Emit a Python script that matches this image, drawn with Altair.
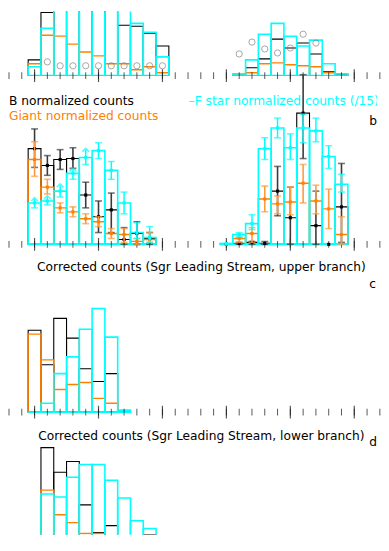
import altair as alt
import pandas as pd

# ---------------- data ----------------
minor_ticks = list(range(80, 380, 10))
major_ticks = [100, 150, 200, 250, 300, 350]

# panel a (top, cropped)
a_bins   = [100, 110, 120, 130, 140, 150, 160, 170, 180, 190, 200,
            260, 270, 280, 290, 300, 310, 320, 330, 340]
a_black  = [0.16, 0.64, 0.80, 0.78, 0.76, 0.66, 0.67, 0.51, 0.50, 0.43, 0.30,
            0.01, 0.08, 0.17, 0.37, 0.28, 0.33, 0.22, 0.04, 0.01]
a_orange = [0.12, 0.41, 0.40, 0.32, 0.24, 0.20, 0.12, 0.12, 0.06, 0.09, 0.03,
            0.01, 0.03, 0.12, 0.13, 0.11, 0.10, 0.09, 0.03, 0.005]
a_cyan   = [0.09, 0.48, 0.95, 0.92, 0.90, 0.95, 0.80, 0.71, 0.53, 0.44, 0.19,
            0.02, 0.16, 0.42, 0.53, 0.40, 0.30, 0.36, 0.12, 0.02]
a_circ_bins = [100, 110, 120, 130, 140, 150, 160, 170, 180, 190, 200,
               260, 270, 280, 290, 300, 310, 320, 330]
a_circ      = [0.68, 0.14, 0.10, 0.10, 0.10, 0.10, 0.10, 0.10, 0.10, 0.10, 0.10,
               0.22, 0.34, 0.27, 0.23, 0.28, 0.42, 0.33, 0.70]

# panel b (normalized counts with errors)
b_bins      = [100, 110, 120, 130, 140, 150, 160, 170, 180, 190,
               250, 260, 270, 280, 290, 300, 310, 320, 330, 340]
b_black     = [0.97, 0.80, 0.86, 0.87, 0.50, 0.28, 0.35, 0.05, 0.11, 0.06,
               0.00, 0.01, 0.02, 0.01, 0.54, 0.27, 1.33, 0.19, 0.00, 0.38]
b_black_lo  = [0.78, 0.70, 0.76, 0.77, 0.37, 0.12, 0.12, 0.00, 0.00, 0.00,
               None, 0.00, 0.00, 0.00, 0.29, 0.00, 0.87, 0.00, None, 0.02]
b_black_hi  = [1.17, 0.90, 0.96, 0.98, 0.63, 0.44, 0.52, 0.17, 0.23, 0.12,
               None, 0.02, 0.03, 0.03, 0.79, 0.58, 1.72, 0.54, None, 0.82]
b_orange    = [0.86, 0.58, 0.37, 0.33, 0.26, 0.23, 0.11, 0.10, 0.03, 0.05,
               0.00, 0.06, 0.11, 0.46, 0.41, 0.43, 0.62, 0.44, 0.36, 0.10]
b_orange_lo = [0.69, 0.51, 0.32, 0.28, 0.21, 0.18, 0.06, 0.02, 0.00, 0.02,
               None, 0.02, 0.02, 0.33, 0.31, 0.30, 0.42, 0.31, 0.16, 0.00]
b_orange_hi = [1.04, 0.66, 0.42, 0.38, 0.31, 0.28, 0.16, 0.16, 0.06, 0.12,
               None, 0.07, 0.17, 0.59, 0.49, 0.58, 0.81, 0.60, 0.56, 0.28]
b_cyan      = [0.42, 0.44, 0.54, 0.72, 0.88, 0.95, 0.75, 0.42, 0.12, 0.07,
               0.01, 0.10, 0.21, 0.97, 1.18, 0.98, 1.18, 1.15, 0.89, 0.61]
b_cyan_lo   = [0.37, 0.40, 0.48, 0.66, 0.81, 0.87, 0.66, 0.31, 0.06, 0.02,
               None, 0.08, 0.15, 0.86, 1.08, 0.86, 1.03, 1.04, 0.77, 0.53]
b_cyan_hi   = [0.46, 0.48, 0.60, 0.76, 0.96, 1.03, 0.84, 0.53, 0.22, 0.18,
               None, 0.12, 0.30, 1.08, 1.28, 1.12, 1.32, 1.28, 1.00, 0.71]
b_cyan_arrow = [True, True, True, True, True, False, False, False, False, False,
                False, False, False, False, False, False, False, False, False, False]

# panel c (corrected counts, upper branch)
c_bins   = [100, 110, 120, 130, 140, 150, 160, 170]
c_black  = [0.83, 0.48, 0.95, 0.75, 0.44, 0.31, 0.39, 0.00]
c_orange = [0.79, 0.53, 0.23, 0.28, 0.30, 0.14, 0.09, 0.00]
c_cyan   = [0.00, 0.09, 0.39, 0.56, 0.84, 1.05, 0.76, 0.02]

# panel d (corrected counts, lower branch)
d_bins   = [110, 120, 130, 140, 150, 160, 170, 180, 190]
d_black  = [1.34, 1.09, 1.20, 0.76, 0.48, 0.55, 0.34, 0.25, 0.46]
d_orange = [0.91, 0.66, 0.58, 0.47, 0.47, 0.30, 0.37, 0.20, 0.20]
d_cyan   = [0.87, 0.84, 1.04, 1.17, 1.17, 1.01, 0.83, 0.60, 0.52]

# ---------------- styling ----------------
W = 373
PX_PER_UNIT = 1.296
X_DOMAIN = [80, 80 + W / PX_PER_UNIT]
BLACK, ORANGE, CYAN, GREY = "#000000", "#FF8000", "#00FFFF", "#808080"
FONT = "DejaVu Sans"
FS = 12.4


def xsc():
    return alt.Scale(domain=X_DOMAIN, nice=False, zero=False)


def ysc(h, lo=0.0):
    return alt.Scale(domain=[lo, lo + h / 100.0], nice=False, zero=False)


def hist_df(bins, black, orange, cyan):
    return pd.DataFrame({
        "bin": bins,
        "x0": [b - 5 for b in bins],
        "x1": [b + 5 for b in bins],
        "black": black, "orange": orange, "cyan": cyan,
    })


def hist_layers(df, ys, clip=False):
    out = []
    for col, color, sw in [("black", BLACK, 1.1), ("orange", ORANGE, 1.4), ("cyan", CYAN, 1.6)]:
        out.append(
            alt.Chart(df).mark_rect(filled=False, stroke=color, strokeWidth=sw, clip=clip).encode(
                x=alt.X("x0:Q", scale=xsc(), axis=None),
                x2="x1:Q",
                y=alt.Y(f"{col}:Q", scale=ys, axis=None),
                y2=alt.datum(0),
            )
        )
    return out


def tick_layers(h):
    mdf = pd.DataFrame({"t": minor_ticks})
    Mdf = pd.DataFrame({"t": major_ticks})
    axis = alt.Axis(domain=True, domainColor="#222222", domainWidth=1.2, ticks=False,
                    labels=False, title=None, grid=False)
    minor = alt.Chart(mdf).mark_tick(orient="vertical", size=7, thickness=1, color="#111111").encode(
        x=alt.X("t:Q", scale=xsc(), axis=axis), y=alt.value(h))
    major = alt.Chart(Mdf).mark_tick(orient="vertical", size=13, thickness=1.2, color="#111111").encode(
        x=alt.X("t:Q", scale=xsc(), axis=None), y=alt.value(h))
    return [minor, major]


def text_layer(txt, x, y, color=BLACK, align="left", clip=False):
    return alt.Chart(pd.DataFrame({"txt": [txt]})).mark_text(
        font=FONT, fontSize=FS, color=color, align=align, baseline="alphabetic", clip=clip
    ).encode(text="txt:N", x=alt.value(x), y=alt.value(y))


# ---------------- panel a ----------------
HA = 65
YA = ysc(HA)
a_df = hist_df(a_bins, a_black, a_orange, a_cyan)
circ_df = pd.DataFrame({"bin": a_circ_bins, "v": a_circ})
circles = alt.Chart(circ_df).transform_filter(f"datum.v <= {HA / 100.0}").mark_point(
    shape="circle", size=40, filled=False, color=GREY, strokeWidth=1, clip=True).encode(
    x=alt.X("bin:Q", scale=xsc(), axis=None),
    y=alt.Y("v:Q", scale=YA, axis=None))
panel_a = alt.layer(*hist_layers(a_df, YA, clip=True), circles, *tick_layers(HA)).properties(width=W, height=HA)

# ---------------- panel b ----------------
HB = 171
YB = ysc(HB)
b_df = hist_df(b_bins, b_black, b_orange, b_cyan)


def err_layers(bins, val, lo, hi, color, ecolor, ew, arrows=None):
    df = pd.DataFrame({"bin": bins, "v": val, "lo": lo, "hi": hi,
                       "arrow": arrows if arrows else [False] * len(bins)})
    base = alt.Chart(df)
    xe = alt.X("bin:Q", scale=xsc(), axis=None)
    rule = base.mark_rule(color=ecolor, strokeWidth=ew).encode(
        x=xe, y=alt.Y("lo:Q", scale=YB, axis=None), y2="hi:Q")
    cap_lo = base.mark_tick(orient="horizontal", size=7, thickness=ew, color=ecolor).encode(
        x=xe, y=alt.Y("lo:Q", scale=YB, axis=None))
    cap_hi = base.transform_filter("!datum.arrow").mark_tick(
        orient="horizontal", size=7, thickness=ew, color=ecolor).encode(
        x=xe, y=alt.Y("hi:Q", scale=YB, axis=None))
    pts = base.mark_square(size=10, color=color, opacity=1).encode(
        x=xe, y=alt.Y("v:Q", scale=YB, axis=None))
    layers = [rule, cap_lo, cap_hi, pts]
    if arrows:
        arr = base.transform_filter("datum.arrow").mark_point(
            shape="M-1,0.6L0,-0.4L1,0.6", size=45, filled=False, color=ecolor, strokeWidth=1.6).encode(
            x=xe, y=alt.Y("hi:Q", scale=YB, axis=None))
        layers.append(arr)
    return layers


panel_b = alt.layer(
    *hist_layers(b_df, YB),
    *tick_layers(HB),
    *err_layers(b_bins, b_black, b_black_lo, b_black_hi, BLACK, "#3a3a3a", 1.6),
    *err_layers(b_bins, b_orange, b_orange_lo, b_orange_hi, ORANGE, "#FF9A3C", 1.6),
    *err_layers(b_bins, b_cyan, b_cyan_lo, b_cyan_hi, CYAN, CYAN, 1.5, arrows=b_cyan_arrow),
    text_layer("B normalized counts", 0, 30, BLACK),
    text_layer("Giant normalized counts", 0, 45, ORANGE),
    text_layer("\u2013F star normalized counts (/15)", 182, 30, CYAN, clip=True),
    text_layer("b", 365, 50, BLACK),
).properties(width=W, height=HB)

# ---------------- panel c ----------------
HC = 170
YC = ysc(HC)
c_df = hist_df(c_bins, c_black, c_orange, c_cyan)
panel_c = alt.layer(
    *hist_layers(c_df, YC),
    *tick_layers(HC),
    text_layer("Corrected counts (Sgr Leading Stream, upper branch)", 195, 27, BLACK, align="center"),
    text_layer("c", 365, 44, BLACK),
).properties(width=W, height=HC)

# ---------------- panel d (its axis lies below the visible window) ----------------
HD = 124
YD = ysc(HD, lo=0.46)
d_df = hist_df(d_bins, d_black, d_orange, d_cyan)
panel_d = alt.layer(
    *hist_layers(d_df, YD, clip=True),
    text_layer("Corrected counts (Sgr Leading Stream, lower branch)", 195, 28, BLACK, align="center"),
    text_layer("d", 365, 34, BLACK),
).properties(width=W, height=HD)

chart = alt.vconcat(panel_a, panel_b, panel_c, panel_d, spacing=0, bounds="flush").properties(
    padding=0, background="white"
).configure_view(stroke=None)

chart.save("out.html", embed_options={"renderer": "svg", "actions": False})
